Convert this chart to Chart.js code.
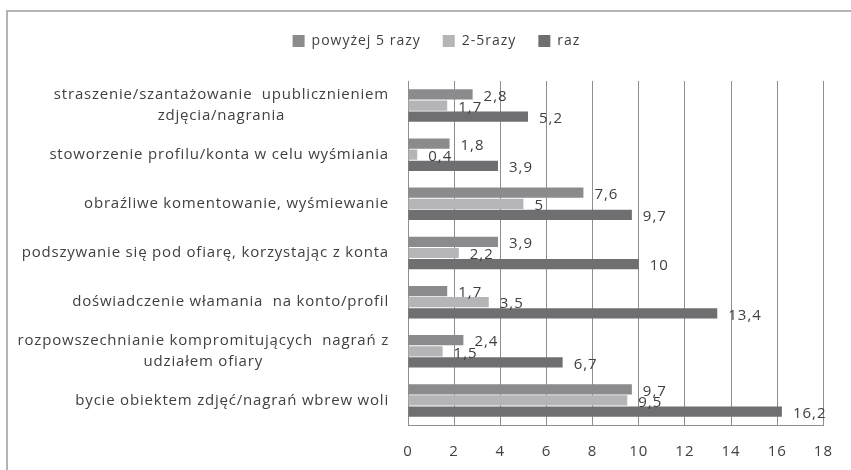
<!DOCTYPE html>
<html>
<head>
<meta charset="utf-8">
<script src="https://cdn.jsdelivr.net/npm/chart.js@4.4.1/dist/chart.umd.min.js"></script>
<style>
  html, body { margin: 0; padding: 0; background: #fff; }
  #wrap { position: relative; width: 851px; height: 470px; overflow: hidden; }
  #frame { position: absolute; left: 6px; top: 10px; width: 900px; height: 500px;
           border-left: 2px solid #b4b4b4; border-top: 2px solid #b4b4b4; }
  canvas { position: absolute; left: 0; top: 0; }
</style>
</head>
<body>
<div id="wrap">
  <div id="frame"></div>
  <canvas id="barChart" width="851" height="470"></canvas>
</div>
<script>
// categories, top to bottom (multi-line labels as arrays)
const categories = [
    ["straszenie/szantażowanie  upublicznieniem", "zdjęcia/nagrania"],
    ["stoworzenie profilu/konta w celu wyśmiania"],
    ["obraźliwe komentowanie, wyśmiewanie"],
    ["podszywanie się pod ofiarę, korzystając z konta"],
    ["doświadczenie włamania  na konto/profil"],
    ["rozpowszechnianie kompromitujących  nagrań z", "udziałem ofiary"],
    ["bycie obiektem zdjęć/nagrań wbrew woli"]
];
const seriesNames = ["powyżej 5 razy", "2-5razy", "raz"];
const moreThan5 = [2.8, 1.8, 7.6, 3.9, 1.7, 2.4, 9.7];
const from2to5 = [1.7, 0.4, 5, 2.2, 3.5, 1.5, 9.5];
const once = [5.2, 3.9, 9.7, 10, 13.4, 6.7, 16.2];
const xTicks = [0, 2, 4, 6, 8, 10, 12, 14, 16, 18];

const colors = ["#8b8b8d", "#b5b5b7", "#6f6f72"];
const textColor = "#404040";
const gridColor = "#8e8e8e";
const fontFamily = "'Open Sans', sans-serif";

// the scanned original has loose letter spacing; apply it to all canvas text
const spacing = {
    id: "spacing",
    beforeUpdate(chart) { chart.ctx.letterSpacing = "1px"; },
    beforeDraw(chart) { chart.ctx.letterSpacing = "1px"; }
};

// draw the value labels just past the end of each bar
const valueLabels = {
    id: "valueLabels",
    afterDatasetsDraw(chart) {
        const ctx = chart.ctx;
        ctx.save();
        ctx.font = "15px " + fontFamily;
        ctx.fillStyle = textColor;
        ctx.textAlign = "left";
        ctx.textBaseline = "middle";
        chart.data.datasets.forEach(function (ds, i) {
            chart.getDatasetMeta(i).data.forEach(function (bar, j) {
                const txt = String(ds.data[j]).replace(".", ",");
                ctx.fillText(txt, bar.x + 11, bar.y + 2);
            });
        });
        ctx.restore();
    }
};

// category labels, right aligned block with centered lines (like Excel)
const categoryLabels = {
    id: "categoryLabels",
    afterDraw(chart) {
        const ctx = chart.ctx;
        const yScale = chart.scales.y;
        const rightEdge = chart.chartArea.left - 19;
        const lineH = 21;
        ctx.save();
        ctx.font = "15px " + fontFamily;
        ctx.letterSpacing = "0.8px";
        ctx.fillStyle = textColor;
        ctx.textAlign = "center";
        ctx.textBaseline = "middle";
        categories.forEach(function (lines, i) {
            const cy = yScale.getPixelForValue(i);
            let maxW = 0;
            lines.forEach(function (l) { maxW = Math.max(maxW, ctx.measureText(l).width); });
            const cx = rightEdge - maxW / 2;
            const y0 = cy - (lines.length - 1) * lineH / 2;
            lines.forEach(function (l, k) { ctx.fillText(l, cx, y0 + k * lineH); });
        });
        ctx.restore();
    }
};

// extra space below the legend
const legendGap = {
    id: "legendGap",
    afterInit(chart) {
        const fit = chart.legend.fit;
        chart.legend.fit = function () {
            fit.call(this);
            this.height += 23;
        };
    }
};

new Chart(document.getElementById("barChart").getContext("2d"), {
    type: "bar",
    data: {
        labels: categories,
        datasets: [
            { label: seriesNames[0], data: moreThan5, backgroundColor: colors[0] },
            { label: seriesNames[1], data: from2to5, backgroundColor: colors[1] },
            { label: seriesNames[2], data: once, backgroundColor: colors[2] }
        ]
    },
    options: {
        indexAxis: "y",
        responsive: false,
        animation: false,
        categoryPercentage: 0.68,
        barPercentage: 0.92,
        layout: { padding: { left: 45, right: 23, top: 12, bottom: -9 } },
        plugins: {
            tooltip: { enabled: false },
            legend: {
                position: "top",
                labels: {
                    boxWidth: 12,
                    boxHeight: 12,
                    padding: 22,
                    color: textColor,
                    font: { family: fontFamily, size: 14 }
                }
            }
        },
        scales: {
            x: {
                min: 0,
                max: 18,
                afterBuildTicks: function (scale) {
                    scale.ticks = xTicks.map(function (v) { return { value: v }; });
                },
                grid: { color: gridColor, drawTicks: false },
                border: { color: gridColor },
                ticks: {
                    padding: 18,
                    color: textColor,
                    font: { family: fontFamily, size: 15 }
                }
            },
            y: {
                grid: { display: false },
                border: { color: gridColor },
                ticks: { display: false },
                afterFit: function (scale) { scale.width = 363; }
            }
        }
    },
    plugins: [spacing, valueLabels, categoryLabels, legendGap]
});
</script>
</body>
</html>
